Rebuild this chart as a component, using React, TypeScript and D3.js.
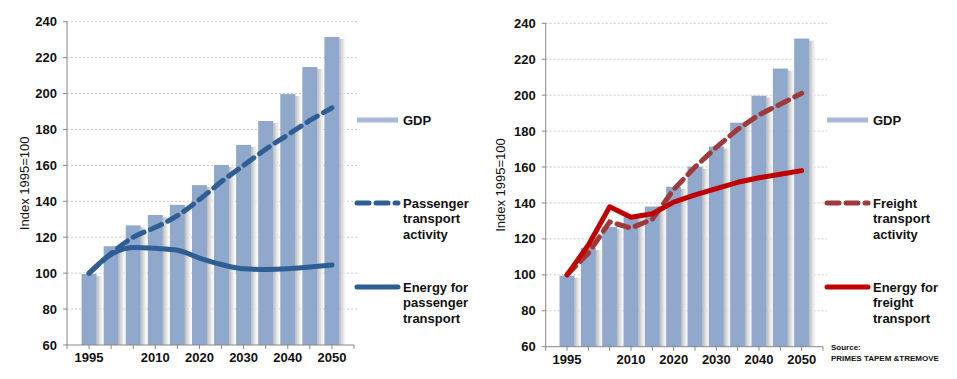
import React from "react";
import * as d3 from "d3";

const years = [1995, 2000, 2005, 2010, 2015, 2020, 2025, 2030, 2035, 2040, 2045, 2050];
const gdp = [99.5, 115, 126.6, 132.4, 138, 149, 160.2, 171.4, 184.7, 199.7, 214.8, 231.5];
const passengerActivity = [100, 111, 120, 125.5, 132, 141, 151, 160, 169, 177, 185, 192];
const passengerEnergy = [100, 110.5, 114.3, 113.8, 112.8, 108.4, 104.8, 102.4, 102, 102.4, 103.4, 104.5];
const freightActivity = [100, 112, 129.5, 126, 131, 147.5, 160, 171, 181, 189, 195, 201];
const freightEnergy = [100, 116.6, 137.9, 132, 134, 140.5, 144.5, 148, 151.5, 154, 156, 158];
const yTicks = [60, 80, 100, 120, 140, 160, 180, 200, 220, 240];
const xTickYears = [1990, 1995, 2000, 2005, 2010, 2015, 2020, 2025, 2030, 2035, 2040, 2045, 2050, 2055];
const xLabelYears = [1995, 2010, 2020, 2030, 2040, 2050];

const FONT = "'Liberation Sans Narrow', 'Arial Narrow', 'Liberation Sans', Arial, sans-serif";
const BAR = "#8FA8CB";
const BLUE = "#2F5E95";
const RED = "#C00000";
const DRED = "#9E3A3A";

type PanelProps = {
  x0: number; x1: number; yTop: number; yBot: number;
  activity: number[]; energy: number[];
  actColor: string; enColor: string; smooth: boolean;
  legendX: number; legendText: string[][]; titleX: number;
  id: string;
};

function Panel(p: PanelProps) {
  const x = d3.scaleLinear().domain([1990, 2055]).range([p.x0, p.x1]);
  const y = d3.scaleLinear().domain([60, 240]).range([p.yBot, p.yTop]);
  const bw = 15;
  const line = d3.line<number>()
    .x((_, i) => x(years[i]))
    .y((d) => y(d))
    .curve(p.smooth ? d3.curveMonotoneX : d3.curveLinear);
  const lx = p.legendX;
  return (
    <g>
      <defs>
        <linearGradient id={"sh" + p.id} x1="0" x2="1" y1="0" y2="0">
          <stop offset="0" stopColor="#b8b8b8" />
          <stop offset="1" stopColor="#f4f4f4" stopOpacity="0.6" />
        </linearGradient>
      </defs>
      {yTicks.filter((t) => t > 60).map((t) => (
        <line key={t} x1={p.x0} x2={p.x1 + 4} y1={y(t)} y2={y(t)} stroke="#c8c8c8" strokeDasharray="2,2" strokeWidth={1} />
      ))}
      {years.map((yr, i) => (
        <g key={yr}>
          <rect x={x(yr) + bw / 2} y={y(gdp[i]) + 2} width={6} height={p.yBot - y(gdp[i]) - 2} fill={`url(#sh${p.id})`} />
          <rect x={x(yr) - bw / 2} y={y(gdp[i])} width={bw} height={p.yBot - y(gdp[i])} fill={BAR} />
        </g>
      ))}
      <line x1={p.x0} x2={p.x0} y1={p.yTop} y2={p.yBot} stroke="#888" strokeWidth={1} />
      <line x1={p.x0} x2={p.x1} y1={p.yBot} y2={p.yBot} stroke="#888" strokeWidth={1} />
      {yTicks.map((t) => (
        <g key={t}>
          <line x1={p.x0 - 4} x2={p.x0} y1={y(t)} y2={y(t)} stroke="#888" />
          <text x={p.x0 - 10} y={y(t)} dy="0.35em" textAnchor="end" fontFamily={FONT} fontWeight="bold" fontSize={13} fill="#111">{t}</text>
        </g>
      ))}
      {xTickYears.map((t) => (
        <line key={t} x1={x(t)} x2={x(t)} y1={p.yBot} y2={p.yBot + 4} stroke="#888" />
      ))}
      {xLabelYears.map((t) => (
        <text key={t} x={x(t)} y={p.yBot + 17} textAnchor="middle" fontFamily={FONT} fontWeight="bold" fontSize={13} fill="#111">{t}</text>
      ))}
      <path d={line(p.activity) || ""} fill="none" stroke={p.actColor} strokeWidth={5} strokeDasharray="12,7" strokeLinecap="round" />
      <path d={line(p.energy) || ""} fill="none" stroke={p.enColor} strokeWidth={5} strokeLinecap="round" strokeLinejoin="round" />
      <text transform={`translate(${p.titleX},${(p.yTop + p.yBot) / 2}) rotate(-90)`} textAnchor="middle" dy="0.35em" fontFamily="'Liberation Sans', Arial, sans-serif" fontSize={13} fill="#111">Index 1995=100</text>
      {/* legend */}
      <line x1={lx} x2={lx + 41} y1={120} y2={120} stroke="#A7BAD8" strokeWidth={5} />
      <line x1={lx} x2={lx + 41} y1={203} y2={203} stroke={p.actColor} strokeWidth={5} strokeDasharray="12,7" strokeLinecap="round" />
      <line x1={lx} x2={lx + 41} y1={287} y2={287} stroke={p.enColor} strokeWidth={5} strokeLinecap="round" />
      {[[p.legendText[0], 120], [p.legendText[1], 203], [p.legendText[2], 287]].map(([lines, yy]: any, k) => (
        <text key={k} x={lx + 46} y={yy} dy="0.35em" fontFamily={FONT} fontWeight="bold" fontSize={13} fill="#111">
          {(lines as string[]).map((s, j) => (
            <tspan key={j} x={lx + 46} dy={j === 0 ? "0.35em" : 15.5}>{s}</tspan>
          ))}
        </text>
      ))}
    </g>
  );
}

export default function App() {
  return (
    <svg width={957} height={379} style={{ position: "absolute", left: 0, top: 0, background: "#fff" }}>
      <rect width={957} height={379} fill="#fff" />
      <Panel id="a" x0={67} x1={354} yTop={21.7} yBot={345} activity={passengerActivity} energy={passengerEnergy}
        actColor={BLUE} enColor={BLUE} smooth={true} legendX={357} titleX={24}
        legendText={[["GDP"], ["Passenger", "transport", "activity"], ["Energy for", "passenger", "transport"]]} />
      <Panel id="b" x0={545.7} x1={823} yTop={23.3} yBot={346.7} activity={freightActivity} energy={freightEnergy}
        actColor={DRED} enColor={RED} smooth={false} legendX={827} titleX={500}
        legendText={[["GDP"], ["Freight", "transport", "activity"], ["Energy for", "freight", "transport"]]} />
      <text x={831} y={347} dy="0.35em" fontFamily={FONT} fontWeight="bold" fontSize={8} fill="#111">Source:</text>
      <text x={831} y={358} dy="0.35em" fontFamily={FONT} fontWeight="bold" fontSize={8} fill="#111">PRIMES TAPEM &amp;TREMOVE</text>
    </svg>
  );
}
